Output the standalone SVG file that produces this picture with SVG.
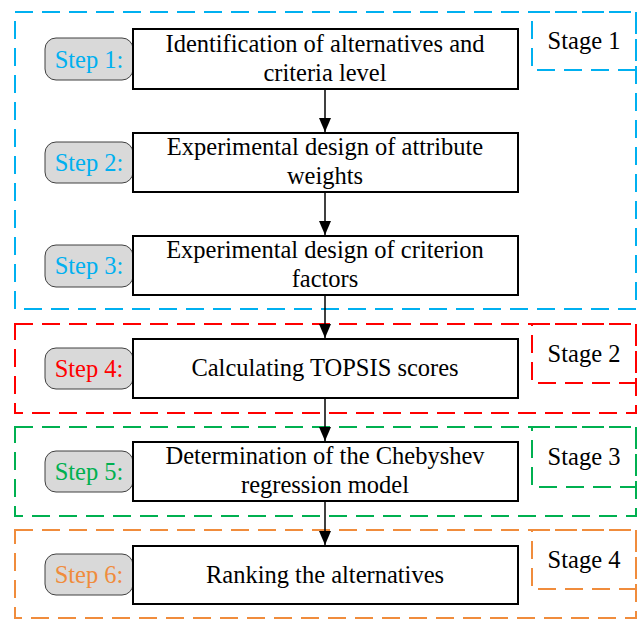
<svg xmlns="http://www.w3.org/2000/svg" width="638" height="620" viewBox="0 0 638 620">
<defs>
<marker id="arr" markerWidth="14" markerHeight="12" refX="14" refY="6" orient="auto" markerUnits="userSpaceOnUse" viewBox="0 0 14 12">
<path d="M0,0 L14,6 L0,12 Z" fill="#000"/>
</marker>
<style>
.stage{fill:none;stroke-width:2;stroke-dasharray:18 9}
.box{fill:#fff;stroke:#000;stroke-width:2}
.pill{fill:#d9d9d9;stroke:#404040;stroke-width:1}
.t{font-family:"Liberation Serif","Times New Roman",serif;font-size:24.5px;fill:#000;text-anchor:middle}
.blue{stroke:#00b0f0}.red{stroke:#ff0000}.green{stroke:#00b050}.orange{stroke:#f08c3c}
.cb{fill:#00b0f0}.cr{fill:#ff0000}.cg{fill:#00b050}.co{fill:#f08c3c}
.conn{stroke:#000;stroke-width:1.5;fill:none}
</style>
</defs>
<rect width="638" height="620" fill="#fff"/>

<g id="stage1">
<rect class="stage blue" x="15" y="12" width="621" height="297"/>
<rect class="stage blue" x="532" y="12" width="104" height="58"/>
<text class="t" x="584" y="49">Stage 1</text>
</g>
<g id="stage2">
<rect class="stage red" x="15" y="324" width="621" height="89"/>
<rect class="stage red" x="532" y="324" width="104" height="59"/>
<text class="t" x="584" y="362">Stage 2</text>
</g>
<g id="stage3">
<rect class="stage green" x="15" y="427" width="621" height="89"/>
<rect class="stage green" x="532" y="427" width="104" height="60"/>
<text class="t" x="584" y="465">Stage 3</text>
</g>
<g id="stage4">
<rect class="stage orange" x="15" y="530" width="621" height="88"/>
<rect class="stage orange" x="532" y="530" width="104" height="59"/>
<text class="t" x="584" y="568">Stage 4</text>
</g>

<g id="connectors">
<line class="conn" x1="325" y1="89" x2="325" y2="132" marker-end="url(#arr)"/>
<line class="conn" x1="325" y1="192" x2="325" y2="235" marker-end="url(#arr)"/>
<line class="conn" x1="325" y1="295" x2="325" y2="338" marker-end="url(#arr)"/>
<line class="conn" x1="325" y1="398" x2="325" y2="441" marker-end="url(#arr)"/>
<line class="conn" x1="325" y1="501" x2="325" y2="545" marker-end="url(#arr)"/>
</g>

<g id="step1">
<rect class="pill" x="45" y="38" width="88" height="42" rx="11"/>
<text class="t cb" x="89" y="68">Step 1:</text>
<rect class="box" x="133" y="29" width="385" height="60"/>
<text class="t" x="325" y="52">Identification of alternatives and</text>
<text class="t" x="325" y="81">criteria level</text>
</g>
<g id="step2">
<rect class="pill" x="45" y="142" width="88" height="41" rx="11"/>
<text class="t cb" x="89" y="171">Step 2:</text>
<rect class="box" x="133" y="133" width="385" height="59"/>
<text class="t" x="325" y="155">Experimental design of attribute</text>
<text class="t" x="325" y="184">weights</text>
</g>
<g id="step3">
<rect class="pill" x="45" y="245" width="88" height="42" rx="11"/>
<text class="t cb" x="89" y="274">Step 3:</text>
<rect class="box" x="133" y="236" width="385" height="59"/>
<text class="t" x="325" y="258">Experimental design of criterion</text>
<text class="t" x="325" y="287">factors</text>
</g>
<g id="step4">
<rect class="pill" x="45" y="348" width="88" height="41" rx="11"/>
<text class="t cr" x="89" y="377">Step 4:</text>
<rect class="box" x="133" y="339" width="385" height="59"/>
<text class="t" x="325" y="376">Calculating TOPSIS scores</text>
</g>
<g id="step5">
<rect class="pill" x="45" y="451" width="88" height="41" rx="11"/>
<text class="t cg" x="89" y="480">Step 5:</text>
<rect class="box" x="133" y="442" width="385" height="59"/>
<text class="t" x="325" y="464">Determination of the Chebyshev</text>
<text class="t" x="325" y="493">regression model</text>
</g>
<g id="step6">
<rect class="pill" x="45" y="554" width="88" height="41" rx="11"/>
<text class="t co" x="89" y="583">Step 6:</text>
<rect class="box" x="133" y="546" width="385" height="58"/>
<text class="t" x="325" y="583">Ranking the alternatives</text>
</g>
</svg>
